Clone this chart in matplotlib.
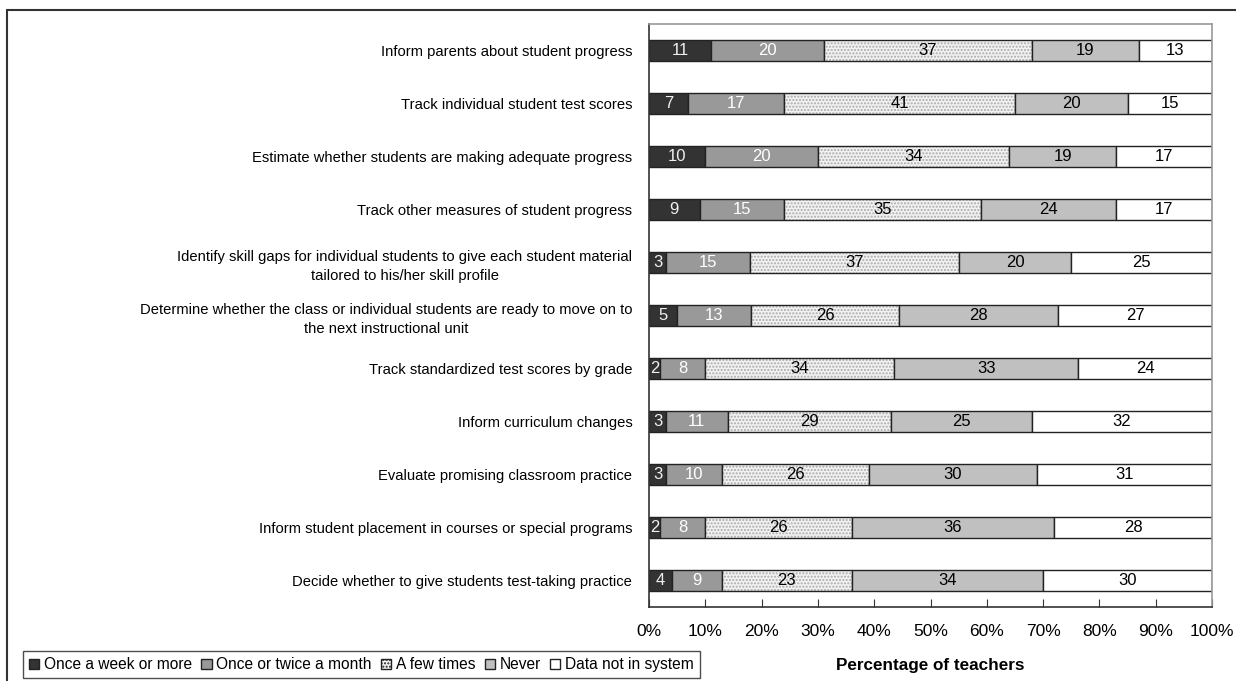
import numpy as np
import matplotlib
matplotlib.use("Agg")
import matplotlib.pyplot as plt
from matplotlib.patches import Rectangle, Patch

plt.rcParams['font.family'] = ['Liberation Sans', 'DejaVu Sans']

categories = [
    "Inform parents about student progress",
    "Track individual student test scores",
    "Estimate whether students are making adequate progress",
    "Track other measures of student progress",
    "Identify skill gaps for individual students to give each student material\ntailored to his/her skill profile",
    "Determine whether the class or individual students are ready to move on to\nthe next instructional unit",
    "Track standardized test scores by grade",
    "Inform curriculum changes",
    "Evaluate promising classroom practice",
    "Inform student placement in courses or special programs",
    "Decide whether to give students test-taking practice",
]
series_names = ["Once a week or more", "Once or twice a month", "A few times",
                "Never", "Data not in system"]
weekly = [11, 7, 10, 9, 3, 5, 2, 3, 3, 2, 4]
monthly = [20, 17, 20, 15, 15, 13, 8, 11, 10, 8, 9]
few = [37, 41, 34, 35, 37, 26, 34, 29, 26, 26, 23]
never = [19, 20, 19, 24, 20, 28, 33, 25, 30, 36, 34]
no_data = [13, 15, 17, 17, 25, 27, 24, 32, 31, 28, 30]
xticks = [0, 10, 20, 30, 40, 50, 60, 70, 80, 90, 100]

colors = ["#333333", "#999999", "#f2f2f2", "#c0c0c0", "#ffffff"]
hatches = [None, None, ".....", None, None]
text_colors = ["#f0f0f0", "white", "black", "black", "black"]

vals = np.array([weekly, monthly, few, never, no_data], dtype=float)
pct = vals / vals.sum(axis=0) * 100

fig = plt.figure(figsize=(12.36, 6.81), dpi=100)
ax = fig.add_axes([649/1236, 74/681, (1212-649)/1236, (607-24)/681])

y = np.arange(len(categories))
left = np.zeros(len(categories))
for i in range(5):
    if hatches[i]:
        ax.barh(y, pct[i], left=left, height=0.4, color=colors[i],
                hatch=hatches[i], edgecolor="#aaaaaa", linewidth=0)
        ax.barh(y, pct[i], left=left, height=0.4, fill=False,
                edgecolor="#222222", linewidth=1)
    else:
        ax.barh(y, pct[i], left=left, height=0.4, color=colors[i],
                edgecolor="#222222", linewidth=1)
    for j in range(len(categories)):
        ax.text(left[j] + pct[i][j] / 2, y[j], f"{int(vals[i][j])}",
                ha="center", va="center", fontsize=12, color=text_colors[i])
    left += pct[i]

ax.set_xlim(0, 100)
ax.set_ylim(len(categories) - 0.5, -0.5)
ax.set_yticks(y)
ax.set_yticklabels(categories, fontsize=10.6)
for lab in ax.get_yticklabels():
    lab.set_multialignment("center")
    lab.set_linespacing(1.45)
ax.tick_params(axis="y", length=0, pad=12)
ax.set_xticks(xticks)
ax.set_xticklabels([f"{t}%" for t in xticks], fontsize=12.5)
ax.tick_params(axis="x", direction="in", length=6, pad=12, color="#333333")
ax.set_xlabel("Percentage of teachers", fontsize=12.3, fontweight="bold", labelpad=14)

ax.spines["left"].set_color("#333333")
ax.spines["bottom"].set_color("#333333")
ax.spines["top"].set_color("#999999")
ax.spines["right"].set_color("#999999")
for s in ax.spines.values():
    s.set_linewidth(1.2)

handles = [Patch(facecolor=colors[i], edgecolor="#222222", hatch=hatches[i])
           for i in range(5)]
leg = fig.legend(handles, series_names, loc="upper left",
                 bbox_to_anchor=(23/1236, 1 - 651/681), ncol=5, frameon=True,
                 fancybox=False, fontsize=11.2, handlelength=0.65, handleheight=0.65,
                 handletextpad=0.3, columnspacing=0.6, borderpad=0.4,
                 borderaxespad=0)
leg.get_frame().set_edgecolor("#222222")
leg.get_frame().set_linewidth(1)

fig.patches.append(Rectangle((7/1236, -0.1), 1.2, 1 - 10/681 + 0.1,
                             transform=fig.transFigure, fill=False,
                             edgecolor="#333333", linewidth=1.5))

fig.savefig("out.png", dpi=100)
